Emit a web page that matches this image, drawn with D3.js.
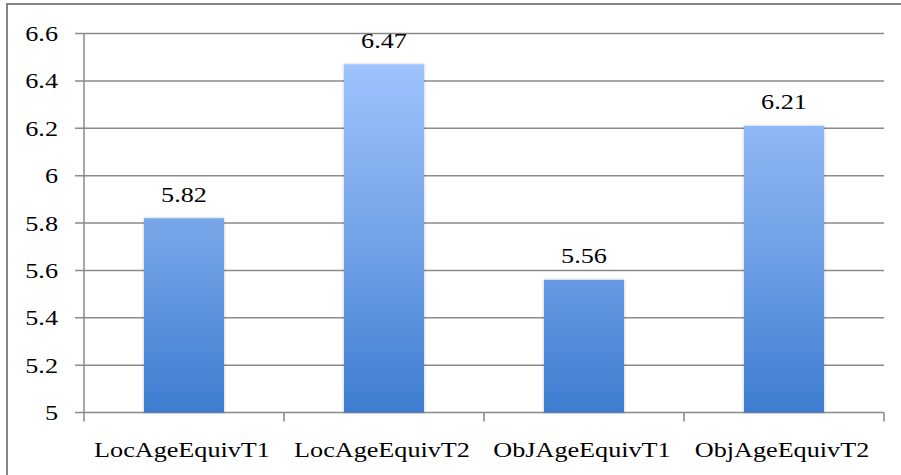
<!DOCTYPE html>
<html>
<head>
<meta charset="utf-8">
<script src="https://cdn.jsdelivr.net/npm/d3@7"></script>
<style>
  html, body { margin: 0; padding: 0; background: #fff; overflow: hidden; }
  svg { display: block; }
</style>
</head>
<body>
<svg id="chart" width="901" height="475" viewBox="0 0 901 475"></svg>
<script>
// Chart data
const categories = ["LocAgeEquivT1", "LocAgeEquivT2", "ObJAgeEquivT1", "ObjAgeEquivT2"];
const values = [5.82, 6.47, 5.56, 6.21];
const yTicks = [5, 5.2, 5.4, 5.6, 5.8, 6, 6.2, 6.4, 6.6];
const yTickLabels = ["5", "5.2", "5.4", "5.6", "5.8", "6", "6.2", "6.4", "6.6"];

(function () {
  const svg = d3.select("#chart");
  const plotLeft = 84, plotRight = 884, plotTop = 33.5, plotBottom = 412.5;
  const gridColor = "#8a8a8a";
  const fontFamily = "'Liberation Serif', 'Times New Roman', Times, serif";
  const fontSize = 22;
  const stretch = "scale(1.19,1)";

  // Outer chart frame; its right and bottom edges run past the view
  svg.append("rect")
    .attr("x", 7).attr("y", 4)
    .attr("width", 910).attr("height", 490)
    .attr("fill", "#fff")
    .attr("stroke", "#858585")
    .attr("stroke-width", 2);

  const x = d3.scaleBand().domain(categories).range([plotLeft, plotRight]).paddingInner(0).paddingOuter(0);
  const y = d3.scaleLinear().domain([5, 6.6]).range([plotBottom, plotTop]);
  const barW = x.bandwidth() / 2.5;

  // Gradient fill for the bars
  const defs = svg.append("defs");
  const grad = defs.append("linearGradient")
    .attr("id", "barGrad")
    .attr("gradientUnits", "userSpaceOnUse")
    .attr("x1", 0).attr("y1", y(6.47)).attr("x2", 0).attr("y2", plotBottom);
  grad.append("stop").attr("offset", "0%").attr("stop-color", "#9dc3fd");
  grad.append("stop").attr("offset", "50%").attr("stop-color", "#74a3e8");
  grad.append("stop").attr("offset", "100%").attr("stop-color", "#3d7dd0");

  const shadow = defs.append("filter").attr("id", "barShadow")
    .attr("x", "-20%").attr("y", "-5%").attr("width", "140%").attr("height", "110%");
  shadow.append("feDropShadow").attr("dx", 0).attr("dy", 0).attr("stdDeviation", 1.5)
    .attr("flood-color", "#000").attr("flood-opacity", 0.25);

  // Horizontal gridlines
  svg.append("g").selectAll("line").data(yTicks).join("line")
    .attr("x1", plotLeft - 9).attr("x2", plotRight)
    .attr("y1", d => y(d)).attr("y2", d => y(d))
    .attr("stroke", gridColor).attr("stroke-width", 1.5);

  // Y axis line
  svg.append("line")
    .attr("x1", plotLeft).attr("x2", plotLeft).attr("y1", plotTop).attr("y2", plotBottom)
    .attr("stroke", gridColor).attr("stroke-width", 1.5);

  // Category boundary ticks below the axis
  const boundaries = categories.map(c => x(c)).concat([plotRight]);
  svg.append("g").selectAll("line").data(boundaries).join("line")
    .attr("x1", d => d).attr("x2", d => d)
    .attr("y1", plotBottom).attr("y2", plotBottom + 9)
    .attr("stroke", gridColor).attr("stroke-width", 1.5);

  const textStyle = sel => sel
    .attr("font-family", fontFamily)
    .attr("font-size", fontSize)
    .attr("fill", "#000");

  // Y tick labels
  svg.append("g").selectAll("text").data(yTicks).join("text")
    .attr("transform", d => `translate(58,${y(d) + 7.5}) ${stretch}`)
    .attr("text-anchor", "end")
    .call(textStyle)
    .text((d, i) => yTickLabels[i]);

  // Bars
  svg.append("g").selectAll("rect").data(values).join("rect")
    .attr("x", (d, i) => x(categories[i]) + (x.bandwidth() - barW) / 2)
    .attr("y", d => y(d))
    .attr("width", barW)
    .attr("height", d => plotBottom - y(d))
    .attr("fill", "url(#barGrad)")
    .attr("filter", "url(#barShadow)");

  // Value labels
  svg.append("g").selectAll("text").data(values).join("text")
    .attr("transform", (d, i) => `translate(${x(categories[i]) + x.bandwidth() / 2},${y(d) - 16.5}) ${stretch}`)
    .attr("text-anchor", "middle")
    .call(textStyle)
    .text(d => d3.format(".2f")(d));

  // Category labels
  svg.append("g").selectAll("text").data(categories).join("text")
    .attr("transform", d => `translate(${x(d) + x.bandwidth() / 2 - 2},456.5) ${stretch}`)
    .attr("text-anchor", "middle")
    .call(textStyle)
    .text(d => d);
})();
</script>
</body>
</html>
